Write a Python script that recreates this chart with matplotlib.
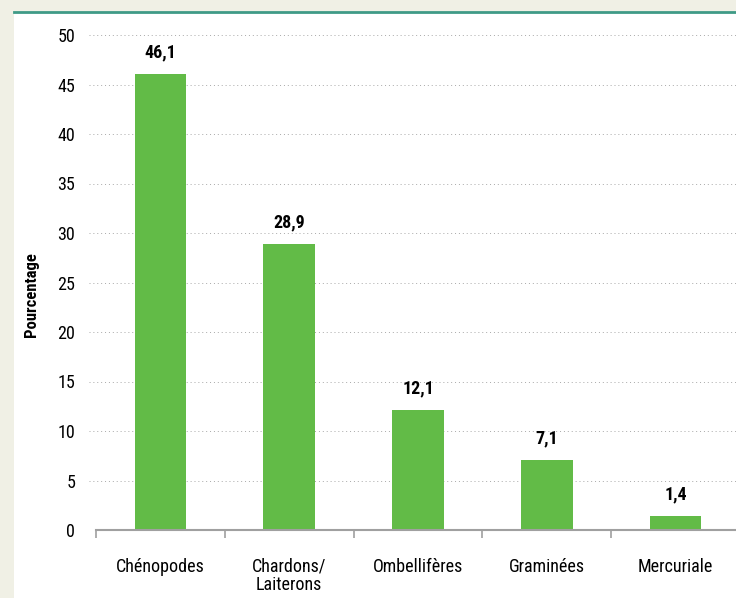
import matplotlib.pyplot as plt
from matplotlib.patches import Rectangle
from matplotlib.lines import Line2D

categories = ['Chénopodes', 'Chardons/\nLaiterons', 'Ombellifères', 'Graminées', 'Mercuriale']
values = [46.1, 28.9, 12.1, 7.1, 1.4]
value_labels = ['46,1', '28,9', '12,1', '7,1', '1,4']
yticks = [0, 5, 10, 15, 20, 25, 30, 35, 40, 45, 50]

plt.rcParams['font.family'] = ['Roboto Condensed', 'PT Sans Narrow', 'DejaVu Sans']

fig = plt.figure(figsize=(7.36, 5.98), dpi=100)
fig.patch.set_facecolor('#f0f0e5')

# white panel and teal top rule
fig.patches.append(Rectangle((14 / 736, 0), 1, 1 - 13 / 598, transform=fig.transFigure,
                             facecolor='white', edgecolor='none', zorder=-2))
fig.lines.append(Line2D([14 / 736, 1], [1 - 12 / 598, 1 - 12 / 598], transform=fig.transFigure,
                        color='#3f9a86', lw=2, zorder=-1))

ax = fig.add_axes([89 / 736, 68 / 598, 651 / 736, 495 / 598])
ax.set_facecolor('none')
x = list(range(len(categories)))
ax.bar(x, values, width=0.4, color='#62bb47', zorder=3)

for xi, v, lab in zip(x, values, value_labels):
    ax.annotate(lab, (xi, v), xytext=(0, 9), textcoords='offset points',
                ha='center', va='bottom', fontsize=13, fontweight='bold')

ax.set_xlim(-0.554, 4.5)
ax.set_ylim(0, 50)
ax.set_yticks(yticks)
ax.set_yticklabels([str(t) for t in yticks], fontsize=13)
ax.tick_params(axis='y', length=0, pad=10)
ax.yaxis.grid(True, linestyle=(0, (1, 3)), color='#a8a8a8', lw=0.7, zorder=0)

ax.set_xticks([i - 0.5 for i in range(len(categories) + 1)])
ax.set_xticklabels([])
ax.tick_params(axis='x', which='major', length=6, color='#a0a0a0', width=1.2)
ax.set_xticks(x, minor=True)
ax.set_xticklabels(categories, minor=True, fontsize=13, linespacing=1.05)
ax.tick_params(axis='x', which='minor', length=0, pad=20)

for s in ['top', 'right', 'left']:
    ax.spines[s].set_visible(False)
ax.spines['bottom'].set_color('#a0a0a0')
ax.spines['bottom'].set_linewidth(1.5)
ax.spines['bottom'].set_bounds(-0.5, 4.6)
ax.spines['bottom'].set_zorder(4)

fig.text(32 / 736, 1 - 295 / 598, 'Pourcentage', rotation=90, ha='center', va='center',
         fontsize=12, fontweight='bold')

fig.savefig('out.png', dpi=100, facecolor=fig.get_facecolor())
